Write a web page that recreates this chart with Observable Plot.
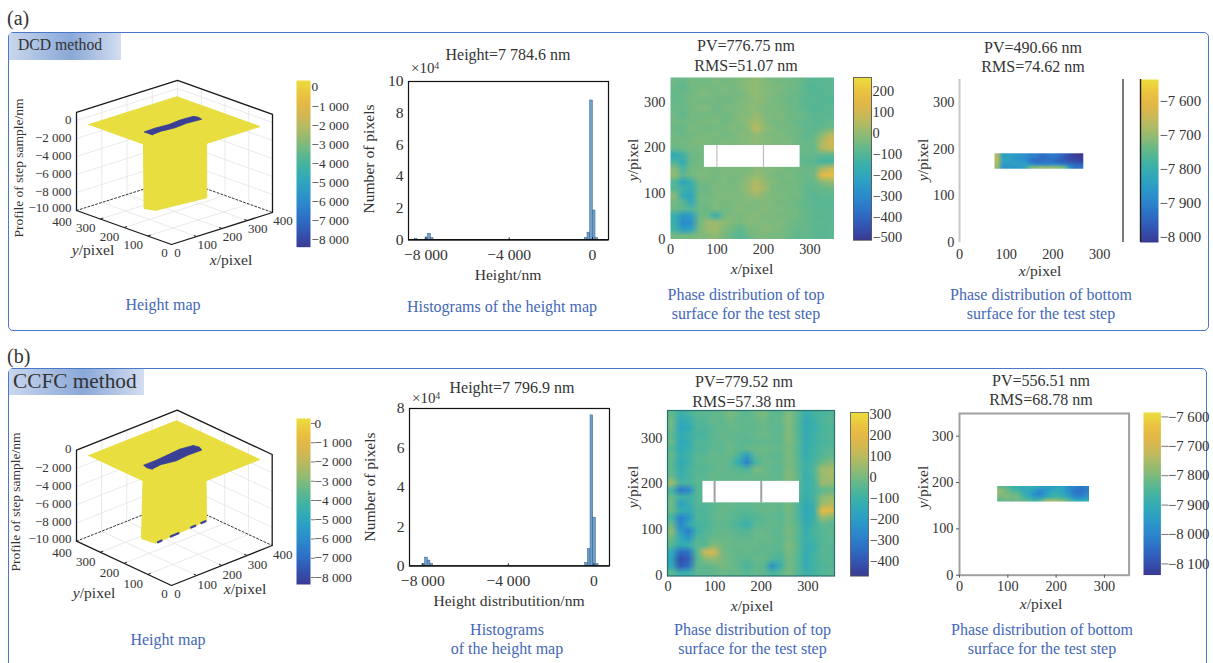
<!DOCTYPE html>
<html><head><meta charset="utf-8">
<script src="https://cdn.jsdelivr.net/npm/d3@7"></script>
<script src="https://cdn.jsdelivr.net/npm/@observablehq/plot@0.6"></script>
<style>
html,body{margin:0;padding:0;background:#fff;overflow:hidden}
#page{position:relative;width:1213px;height:663px;overflow:hidden;font-family:"Liberation Serif",serif;color:#333}
.t{position:absolute;white-space:nowrap;line-height:1}
.panel{position:absolute;border:1.5px solid #4a78c8;border-radius:5px;box-sizing:border-box}
.chip{position:absolute;background:linear-gradient(90deg,#c9d7ed 0%,#8aa8d8 55%,#d3deF0 100%)}
sup{font-size:.62em;vertical-align:baseline;position:relative;top:-.45em}
</style></head>
<body><div id="page"></div>
<script>
// ---------- values ----------
const parula=["#3a3a92","#2f62c2","#2b86cf","#2aa5c5","#3fb5a0","#84bb78","#c6ba5c","#eeb33f","#eadf3e"];

const histA_x1=[-8530,-8018,-7890,-7762,-366,-238,-110,18,146];
const histA_x2=[-8402,-7890,-7762,-7634,-238,-110,18,146,274];
const histA_n=[0.06,0.15,0.38,0.1,0.1,0.45,8.8,1.85,0.1];
const histB_x1=[-8016,-7891,-7766,-7641,-406,-281,-156,-31,94];
const histB_x2=[-7891,-7766,-7641,-7516,-281,-156,-31,94,219];
const histB_n=[0.1,0.42,0.27,0.1,0.15,0.85,7.65,2.45,0.1];

// top surface (a): 20 columns, 24 rows, first row is the top of the map
const topA=[
[-35,-50,-20,-30,-30,-10,-30,-20,-10,0,20,-10,-20,-30,-30,-40,-60,-70,-70,-60],
[-40,-60,-30,-20,-20,-30,-10,-30,-10,10,10,0,-20,-10,-40,-30,-70,-80,-60,-70],
[-50,-40,-30,-10,-10,-30,-20,-20,-30,0,20,-10,-10,-30,-30,-50,-60,-70,-80,-60],
[-45,-50,-20,-30,-30,-20,-40,-30,-10,-10,10,0,-30,-20,-50,-40,-70,-60,-70,-80],
[-45,-40,-30,-10,-10,-40,-20,-10,-20,10,0,-20,-10,-30,-30,-50,-60,-80,-70,-60],
[-30,-60,-20,-30,-30,-20,-30,-30,0,-10,30,-10,-20,-10,-40,-30,-50,-70,-60,-70],
[-35,-30,-30,-20,-20,-10,-40,-20,-10,20,40,0,-30,-20,-30,-50,-60,-60,-70,-50],
[-40,-50,-10,-30,-30,-30,-20,-10,-20,10,90,10,-10,-30,-20,-40,-50,-70,-50,-30],
[-35,-40,-30,-20,-20,-10,-30,-30,0,-10,20,-10,-20,-10,-30,-30,-60,-50,0,80],
[-30,-30,-20,-10,-10,-30,-10,-20,-10,0,10,0,-10,-20,-10,-40,-50,-40,60,120],
[-45,-40,-20,-30,-30,-10,-20,-20,-10,0,0,-10,-20,-10,-20,-40,-40,-50,60,100],
[-170,-120,-40,-30,-20,-20,-10,-20,-20,-10,-10,-20,-10,-20,-30,-50,-50,-50,-60,-60],
[-90,-170,-40,-30,-30,-10,-20,-10,-20,-20,-10,0,-20,-30,-20,-40,-60,-70,-110,-100],
[-5,-100,-30,-20,-20,-20,-20,-20,-10,-20,10,-10,-10,-20,-30,-30,-40,-40,40,100],
[15,-60,-30,-10,-10,-30,-10,-20,-20,0,20,0,-20,-30,-10,-40,-40,-30,170,190],
[-80,-200,-130,-30,-30,-20,-10,-30,-10,20,60,20,-10,-20,-30,-30,-50,-50,0,20],
[-75,-120,-150,-40,-40,-10,-20,-20,-10,30,80,30,-20,-30,-20,-30,-60,-60,-50,-40],
[0,-170,-190,-30,-30,-20,-10,-10,-20,10,30,0,-20,-10,-30,-20,-50,-70,-60,-60],
[-25,-60,-170,-30,-30,-10,-20,-20,-10,-10,-20,-10,-10,-30,-20,-40,-60,-60,-70,-70],
[-40,-60,-80,-40,-40,-10,-30,-20,0,-20,-10,0,-20,-10,-30,-30,-50,-70,-60,-70],
[-140,-240,-220,-40,-40,-150,-30,-10,-20,-10,0,-20,-10,-30,-20,-30,-50,-60,-70,-60],
[-140,-280,-260,-30,30,30,10,-10,-20,0,-10,-10,-20,-10,-30,-40,-50,-60,-60,-70],
[-110,-230,-210,-20,30,40,-10,-30,-60,-20,-20,0,-10,-20,-30,-50,-40,-70,-70,-60],
[-30,-30,-20,-10,-10,10,-20,-50,-70,-40,-20,-10,-30,-20,-40,-60,-50,-60,-70,-60]];

// top surface (b)
const topB=[
[-15,-100,-70,-30,-30,-20,-10,20,-10,-30,0,20,-20,-30,30,-20,-110,-70,-60,-40],
[5,-130,-110,-40,-40,-10,-30,0,-20,-20,-10,0,-30,-10,40,-30,-130,-90,-50,-30],
[0,-150,-130,-50,-50,-30,-20,-10,-10,-30,-20,-10,-20,-30,30,-40,-120,-100,-60,-50],
[-25,-120,-90,-60,-60,-20,-10,-20,-30,-20,-10,0,-10,-20,40,-30,-130,-80,-50,-40],
[0,-140,-120,-40,-40,-30,-20,-10,-20,-40,-20,-20,-20,-30,30,-20,-110,-90,-60,-50],
[-35,-130,-100,-50,-50,-20,-30,0,-20,-10,0,0,-10,-10,20,-30,-120,-70,-50,-30],
[-10,-110,-80,-30,-30,-10,-20,-10,-60,-190,-20,-10,-20,-30,30,-30,-110,-80,-40,-20],
[-25,-130,-90,-30,-30,-20,-10,-30,-120,-270,-60,-10,-10,-20,20,-20,-100,-60,0,30],
[-25,-110,-60,-40,-40,-20,-10,-20,-30,-60,20,0,-20,-30,30,-20,-100,-40,70,90],
[-10,-100,-70,-30,-30,-10,-20,-10,-20,-10,-10,-10,-10,-20,40,-10,-110,-50,60,80],
[75,-60,-60,-30,-30,-20,-10,-20,-10,-20,-20,-20,-20,-10,20,-20,-100,-70,70,60],
[-70,-300,-260,-40,-40,-20,-10,-10,-20,-10,-10,-20,-10,-20,0,-30,-100,-70,-30,-10],
[-10,-80,-90,-40,-40,-20,-20,-20,-10,-10,-20,-10,-20,-10,10,-30,-110,-60,40,60],
[5,-180,-110,-40,-40,-30,-20,-10,-20,-20,-10,-20,-10,-20,10,-40,-130,-90,70,100],
[-5,-100,-130,-50,-50,-20,-10,-20,-30,-30,-20,-10,-10,-30,20,-50,-140,-100,230,190],
[-70,-270,-200,-50,-50,-20,-10,-20,-40,-60,-40,-20,-20,-30,10,-40,-130,-90,60,30],
[-5,-250,-140,-60,-60,-30,-20,-30,-60,-100,-30,-20,-10,-30,10,-30,-120,-80,-20,-30],
[45,-190,-280,-90,-40,-20,-10,-20,-30,-40,-10,-10,-20,-20,20,-20,-110,-60,-40,-20],
[-5,-110,-200,-40,-40,-10,-10,-10,-20,-20,-10,-10,-10,-30,10,-30,-100,-70,-40,-30],
[-35,-120,-100,-30,-30,40,10,-10,-10,-10,-10,-20,-20,-30,30,-20,-110,-90,-40,-30],
[-130,-330,-310,-30,150,170,20,-10,-20,-10,-20,-20,-20,-40,20,-30,-110,-80,-30,-40],
[-160,-400,-360,-40,40,60,20,0,-20,-30,-10,-10,-40,-60,10,-30,-120,-70,-40,-30],
[-130,-370,-320,-30,-20,-10,20,0,-20,-60,-20,-30,-220,-100,20,-30,-120,-80,-50,-40],
[-25,-100,-90,-20,-20,-20,-10,-10,-10,-30,-10,-20,-60,-30,20,-30,-90,-70,-40,-30]];

// bottom surface strips: 16 columns, 5 rows, first row is the top of the strip
const botA=[
[-7640,-7810,-7800,-7810,-7830,-7830,-7860,-7860,-7890,-7880,-7870,-7890,-7920,-7950,-7970,-7980],
[-7620,-7800,-7790,-7820,-7830,-7840,-7870,-7880,-7900,-7900,-7880,-7900,-7930,-7950,-7960,-7970],
[-7630,-7790,-7800,-7810,-7820,-7830,-7880,-7900,-7890,-7880,-7900,-7920,-7920,-7940,-7950,-7960],
[-7650,-7810,-7820,-7800,-7800,-7800,-7840,-7850,-7860,-7860,-7840,-7860,-7880,-7900,-7910,-7910],
[-7660,-7830,-7820,-7830,-7820,-7790,-7690,-7680,-7660,-7670,-7660,-7680,-7690,-7820,-7900,-7880]];
const botB=[
[-7790,-7800,-7840,-7860,-7880,-7860,-7880,-7900,-7920,-7900,-7890,-7900,-7960,-7980,-8000,-7980],
[-7740,-7780,-7810,-7830,-7870,-7880,-7920,-7960,-7930,-7890,-7880,-7900,-7950,-8000,-8010,-7990],
[-7750,-7770,-7790,-7800,-7850,-7890,-7950,-7970,-7920,-7870,-7860,-7890,-7930,-7990,-8000,-7960],
[-7780,-7760,-7780,-7770,-7830,-7870,-7920,-7930,-7880,-7850,-7840,-7860,-7900,-7960,-7970,-7930],
[-7800,-7790,-7790,-7780,-7800,-7810,-7850,-7820,-7750,-7740,-7750,-7770,-7810,-7870,-7890,-7870]];

const pixelTicks=[0,100,200,300];
const axis3dTicks=[0,100,200,300,400];
const zTicks=[0,-2000,-4000,-6000,-8000,-10000];
const heightBarTicks=[0,-1000,-2000,-3000,-4000,-5000,-6000,-7000,-8000];
const topABarTicks=[200,100,0,-100,-200,-300,-400,-500];
const topBBarTicks=[300,200,100,0,-100,-200,-300,-400];
const botABarTicks=[-7600,-7700,-7800,-7900,-8000];
const botBBarTicks=[-7600,-7700,-7800,-7900,-8000,-8100];

const plateCorners=[[0,0,0],[350,0,0],[350,350,0],[0,350,0]];
const shaftA=[[0,118,0],[75,195,-8500],[40,110,-7600],[290,160,-8900],[139,0,0]];
const shaftB=[[0,120,0],[65,195,-7925],[40,110,-7140],[290,160,-8020],[137,0,0]];
const slotA=[[75,160,0],[75,178,0],[75,195,0],[120,197,0],[170,192,0],[220,198,0],[270,195,0],[275,178,0],[270,160,0],[215,165,0],[165,160,0],[120,165,0]];
const slotB=[[75,160,0],[70,178,0],[75,197,0],[125,197,0],[170,200,0],[225,205,0],[272,197,0],[278,178,0],[270,158,0],[215,160,0],[165,155,0],[120,165,0]];
const bitsB=[[[52,112,-7184],[70,116,-7246]],[[115,125,-7404],[152,132,-7536]],[[215,145,-7756],[235,149,-7826]],[[265,155,-7932],[285,159,-8002]]];

// ---------- helpers ----------
const page=document.getElementById("page");
const parulaI=d3.interpolateRgbBasis(parula);
const yellow="#e8de40", slotColor="#3a4096";
const fmt=d=>(d<0?"\u2212":"")+String(Math.abs(d)).replace(/\B(?=(\d{3})+$)/g," ");
const style={fontFamily:"Liberation Serif",fontSize:"14px",color:"#333",background:"none",position:"absolute",maxWidth:"none",overflow:"visible"};

function txt(x,y,html,o={}){
  const d=document.createElement("div");d.className="t";d.innerHTML=html;
  d.style.left=x+"px";d.style.top=y+"px";d.style.fontSize=(o.size||14)+"px";
  d.style.color=o.color||"#333";
  d.style.transform=o.rot?"translate(-50%,-50%) rotate(-90deg)":o.start?"translate(0,-50%)":"translate(-50%,-50%)";
  page.appendChild(d);
}
const lab=(x,y,s,rot)=>txt(x,y,s,{size:15.6,rot});
const title=(x,y,s)=>txt(x,y,s,{size:16});
const cap=(x,y,s)=>txt(x,y,s,{size:16,color:"#4468b8"});

function frame(b,opt,fs,ml=60,mr=8,mt=6,mb=28){
  const p=Plot.plot({
    width:b.R-b.L+ml+mr,height:b.B-b.T+mt+mb,
    marginLeft:ml,marginRight:mr,marginTop:mt,marginBottom:mb,
    style:{...style,fontSize:fs+"px",left:(b.L-ml)+"px",top:(b.T-mt)+"px"},
    ...opt});
  page.appendChild(p);
}

function colorbar(b,dom,ticks,o={}){
  frame(b,{
    x:{domain:[0,1],axis:null},
    y:{domain:dom,axis:null},
    color:{type:"linear",domain:dom,interpolate:parulaI},
    marks:[
      Plot.raster({fill:(x,y)=>y,x1:0,x2:1,y1:dom[0],y2:dom[1],width:4,height:170}),
      Plot.frame({stroke:o.stroke||"none",strokeWidth:1,strokeOpacity:0.8}),
      o.leftLine?Plot.ruleX([0],{stroke:"#222",strokeWidth:1.4}):null,
      Plot.axisY(ticks,{anchor:"right",tickSize:o.tick??0,tickPadding:o.pad??1,tickFormat:fmt,label:null,stroke:"#777"})
    ]},o.fs||14.4,4,62);
}

function heat(b,grid,xd,yd,cd,o={}){
  const w=grid[0].length,h=grid.length,bias=o.bias||0;
  frame(b,{
    x:{domain:xd,axis:null},y:{domain:yd,axis:null},
    color:{type:"linear",domain:cd,interpolate:parulaI},
    marks:[
      Plot.raster(grid.flat(),{width:w,height:h,x1:(o.ext||xd)[0],x2:(o.ext||xd)[1],y1:(o.ey||yd)[1],y2:(o.ey||yd)[0],fill:d=>d+bias,imageRendering:"auto"}),
      o.hole?Plot.rect([o.hole],{x1:"x1",x2:"x2",y1:"y1",y2:"y2",fill:"white"}):null,
      o.hole?Plot.ruleX([100,200],{y1:o.hole.y1,y2:o.hole.y2,stroke:"#9aa0a8",strokeWidth:o.holeLine||0.8}):null,
      ...(o.extra||[]),
      Plot.axisX(pixelTicks,{anchor:"bottom",tickSize:o.tick||0,tickPadding:o.padX??5,label:null,stroke:"#555"}),
      Plot.axisY(pixelTicks,{anchor:"left",tickSize:o.tick||0,tickPadding:o.padY??5,label:null,stroke:"#555"})
    ]},14.3);
}

function hist(b,xd,yd,x1,x2,n,yt){
  const bars=n.map((v,i)=>({x1:x1[i],x2:x2[i],n:v}));
  const xt=[-8000,-4000,0];
  frame(b,{
    x:{domain:xd,axis:null},y:{domain:yd,axis:null},
    marks:[
      Plot.rectY(bars,{x1:"x1",x2:"x2",y:"n",fill:"#6f9fca",stroke:"#2f5f8c",strokeWidth:0.5}),
      Plot.ruleY([0],{stroke:"#111",strokeWidth:1.4}),
      Plot.frame({stroke:"#111",strokeWidth:1.2}),
      Plot.ruleX(xt,{y1:yd[0],y2:yd[1]*0.012,stroke:"#111",strokeWidth:1}),
      Plot.axisX(xt,{anchor:"bottom",tickSize:0,tickPadding:9,tickFormat:fmt,label:null}),
      Plot.axisY(yt,{anchor:"left",tickSize:0,tickPadding:5,label:null})
    ]},15.6);
}

function scene(top,c,shaft,slot,bits,zTop,off){
  const W=330,H=235;
  const P=([x,y,z])=>[c.ox+c.xu*x/400+c.yu*y/400, c.oy+c.xv*x/400+c.yv*y/400-(z+10000)*c.zv-top];
  const line=(pts,o)=>Plot.line(pts,{x:p=>P(p)[0],y:p=>P(p)[1],...o});
  const gridC="#e4e4e4",zf=-10000;
  const grid=[];
  for(const t of [100,200,300]){
    grid.push([[t,0,zf],[t,400,zf],[t,400,zTop]],[[0,t,zf],[400,t,zf],[400,t,zTop]]);
  }
  for(const z of zTicks.slice(0,-1)) grid.push([[0,400,z],[400,400,z],[400,0,z]]);
  const txt3=(arr,f,o)=>Plot.text(arr,{x:d=>P(f(d))[0],y:d=>P(f(d))[1],text:d=>fmt(d),...o});
  const tickL=(arr,f,g)=>Plot.link(arr,{x1:d=>P(f(d))[0],y1:d=>P(f(d))[1],x2:d=>P(g(d))[0],y2:d=>P(g(d))[1],stroke:"#222",strokeWidth:1});
  const plate=[plateCorners[3],plateCorners[2],plateCorners[1],shaft[4],shaft[3],shaft[2],shaft[1],shaft[0]];
  page.appendChild(Plot.plot({
    width:W,height:H,margin:0,
    style:{...style,fontSize:"13px",left:"0px",top:top+"px"},
    x:{domain:[0,W],range:[0,W],axis:null},
    y:{domain:[0,H],range:[0,H],axis:null},
    marks:[
      ...grid.map(g=>line(g,{stroke:gridC,strokeWidth:0.8})),
      line([[0,400,zf],[400,400,zf],[400,0,zf]],{stroke:"#333",strokeWidth:1,strokeDasharray:"2,2"}),
      line([[400,400,zf],[400,400,zTop]],{stroke:gridC,strokeWidth:0.8}),
      line(plate,{fill:yellow,stroke:yellow,strokeWidth:1}),
      line(slot,{fill:slotColor,stroke:slotColor,strokeWidth:0.8}),
      ...bits.map(s=>line(s,{stroke:slotColor,strokeWidth:2.2})),
      line([[0,400,zf],[0,400,zTop],[400,400,zTop],[400,0,zTop],[400,0,zf],[0,0,zf],[0,400,zf]],{stroke:"#1a1a1a",strokeWidth:1.3}),
      tickL(axis3dTicks.slice(1,4),d=>[d,0,zf],d=>[d,12,zf]),
      tickL(axis3dTicks.slice(1,4),d=>[0,d,zf],d=>[12,d,zf]),
      txt3(zTicks.slice(0,-1),d=>[0,400,d],{textAnchor:"end",dx:-5,dy:-1}),
      txt3(zTicks.slice(-1),d=>[0,400,d],{textAnchor:"end",dx:-5,dy:-2.5}),
      txt3([0],d=>[d,0,zf],{dx:6,dy:off.z}),
      txt3(axis3dTicks.slice(1),d=>[d,0,zf],{dx:10.5,dy:off.x}),
      txt3([0],d=>[0,d,zf],{dx:-7,dy:off.z}),
      txt3(axis3dTicks.slice(1,4),d=>[0,d,zf],{dx:-14.5,dy:off.y}),
      txt3(axis3dTicks.slice(4),d=>[0,d,zf],{dx:-14.5,dy:off.y+2})
    ]}));
}

// ---------- frames and headings ----------
function box(x,y,w,h){const d=document.createElement("div");d.className="panel";d.style.cssText=`left:${x}px;top:${y}px;width:${w}px;height:${h}px`;page.appendChild(d);}
function chip(x,y,w,h){const d=document.createElement("div");d.className="chip";d.style.cssText=`left:${x}px;top:${y}px;width:${w}px;height:${h}px`;page.appendChild(d);}
box(8,32,1201,299);box(7.5,368,1199.5,310);
chip(9,33,112,27);chip(9,369,135,26);
txt(7,18,"(a)",{size:20,start:true});txt(7,356,"(b)",{size:20,start:true});
txt(18,45,"DCD method",{size:15.7,start:true});txt(13,382,"CCFC method",{size:21.3,start:true});

// ---------- row (a) ----------
scene(0,{ox:171,oy:244,xu:101,xv:-32,yu:-95,yv:-34,zv:0.009},shaftA,slotA,[],900,{x:8,y:9,z:8});
colorbar({L:296,R:310,T:80,B:246.7},[-8390,350],heightBarTicks,{fs:13.3});
txt(19,168,"Profile of step sample/nm",{size:13.5,rot:true});
lab(93,250,"<i>y</i>/pixel");lab(231,260,"<i>x</i>/pixel");
cap(163,305,"Height map");

hist({L:408.3,R:608.3,T:80.7,B:239},[-8835,770],[0,10],histA_x1,histA_x2,histA_n,[0,2,4,6,8,10]);
title(508,55,"Height=7 784.6 nm");txt(411,68,"×10<sup>4</sup>",{size:15,start:true});
lab(369,159,"Number of pixels",true);lab(508,275,"Height/nm");
cap(502,307,"Histograms of the height map");

heat({L:669.5,R:833,T:77,B:238.5},topA,[0,352],[0,354],[-511,267],{bias:-20,hole:{x1:73,x2:279,y1:157,y2:205}});
colorbar({L:853,R:871,T:77.3,B:240},[-511,267],topABarTicks,{stroke:"#444"});
title(746,46,"PV=776.75 nm");title(746,66,"RMS=51.07 nm");
lab(752,269,"<i>x</i>/pixel");lab(633,160,"<i>y</i>/pixel",true);
cap(746,295,"Phase distribution of top");cap(746,314,"surface for the test step");

heat({L:958.5,R:1122,T:79,B:242},botA,[0,350],[0,349],[-8016,-7536],{bias:-40,ext:[75,265],ey:[158,191],padX:6,extra:[
  Plot.ruleX([0],{stroke:"#c8c8c8",strokeWidth:2}),
  Plot.ruleX([350],{stroke:"#222",strokeWidth:1.2})]});
colorbar({L:1140,R:1158,T:79.3,B:242.3},[-8016,-7536],botABarTicks,{leftLine:true,fs:14.8});
title(1033,48,"PV=490.66 nm");title(1033,67,"RMS=74.62 nm");
lab(1040,271,"<i>x</i>/pixel");lab(923,160,"<i>y</i>/pixel",true);
cap(1041,295,"Phase distribution of bottom");cap(1041,314,"surface for the test step");

// ---------- row (b) ----------
scene(340,{ox:171,oy:585,xu:100.7,xv:-40,yu:-95,yv:-44.3,zv:0.0091},shaftB,slotB,bitsB,0,{x:9,y:9.5,z:8});
colorbar({L:296,R:310,T:418.3,B:584.3},[-8365,260],heightBarTicks,{tick:4,pad:0,fs:13.3});
txt(16,502,"Profile of step sample/nm",{size:13.5,rot:true});
lab(94,593,"<i>y</i>/pixel");lab(245,589,"<i>x</i>/pixel");
cap(168,640,"Height map");

hist({L:409.3,R:609.3,T:408.3,B:565.7},[-8620,730],[0,8],histB_x1,histB_x2,histB_n,[0,2,4,6,8]);
title(512,388,"Height=7 796.9 nm");txt(412,398,"×10<sup>4</sup>",{size:15,start:true});
lab(370,487,"Number of pixels",true);lab(509,601,"Height distributition/nm");
cap(507,630,"Histograms");cap(507,649,"of the height map");

heat({L:667,R:834,T:410,B:575.5},topB,[-1,357],[-2,360],[-468,308],{bias:-15,hole:{x1:75,x2:282,y1:158,y2:205},holeLine:2,extra:[Plot.frame({stroke:"#2a6f70",strokeWidth:1.2})]});
colorbar({L:849.5,R:867.5,T:411.7,B:575.3},[-468,308],topBBarTicks,{stroke:"#555"});
title(744,382,"PV=779.52 nm");title(744,402,"RMS=57.38 nm");
lab(752,606,"<i>x</i>/pixel");lab(633,487,"<i>y</i>/pixel",true);
cap(752.5,630,"Phase distribution of top");cap(752.5,649,"surface for the test step");

heat({L:958.7,R:1128.3,T:413.3,B:575},botB,[0,351],[0,349],[-8138,-7585],{bias:-30,ext:[78,268],ey:[159,192.5],tick:3,padX:3,padY:3,extra:[Plot.frame({stroke:"#a0a0a0",strokeWidth:2})]});
colorbar({L:1143.3,R:1160.7,T:411.7,B:574.3},[-8138,-7585],botBBarTicks,{tick:7,pad:0,fs:14.8});
title(1041,381,"PV=556.51 nm");title(1041,400,"RMS=68.78 nm");
lab(1041,604,"<i>x</i>/pixel");lab(923,487,"<i>y</i>/pixel",true);
cap(1042,630,"Phase distribution of bottom");cap(1042,649,"surface for the test step");
</script></body></html>
